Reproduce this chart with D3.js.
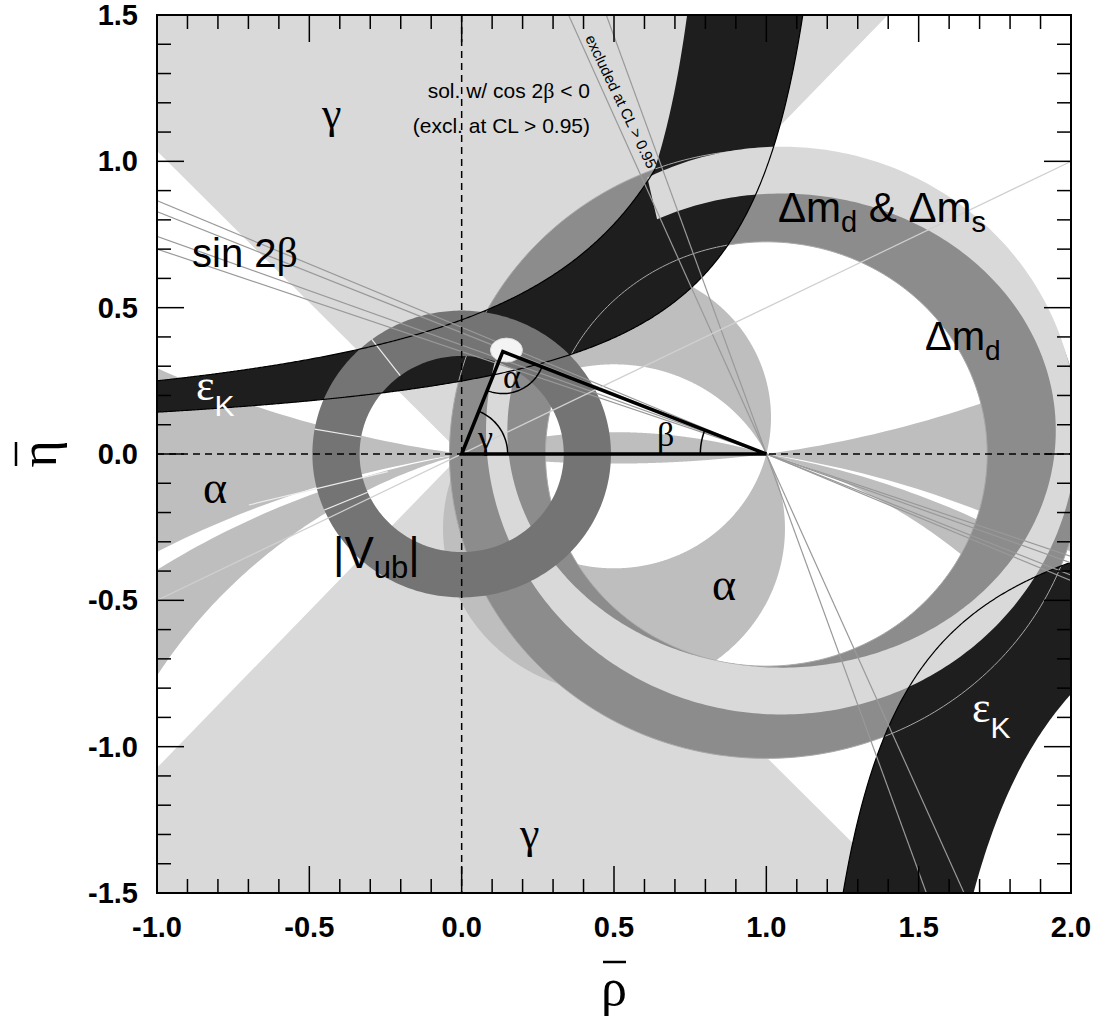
<!DOCTYPE html>
<html><head><meta charset="utf-8">
<script src="https://cdn.jsdelivr.net/npm/d3@7"></script>
<style>body{margin:0;background:#fff}</style>
</head><body>
<svg id="chart" width="1100" height="1021"></svg>
<script>
// ---- axis ranges and ticks ----
const rhoDomain = [-1, 2];
const etaDomain = [-1.5, 1.5];
const rhoTicks = [-1.0, -0.5, 0.0, 0.5, 1.0, 1.5, 2.0];
const etaTicks = [-1.5, -1.0, -0.5, 0.0, 0.5, 1.0, 1.5];

// ---- constraints (angles in degrees) ----
// gamma: wedges from the origin
const gammaWedges = [[47, 134], [227, 314]];
// alpha: allowed bands of arg((z-1)/z), z = rho + i eta
const alphaBands = [[76, 117], [163, 180], [0, 8], [-104, -63], [-180, -172.5], [-9, 0], [-16.4, -10.4]];
// further contour segments on rays from the origin: [angle, r from, r to]
const originRays = [[127, 0.335, 0.49], [170, 0.335, 0.49], [194, 0.25, 0.72], [203, 0.335, 0.49]];
// |Vub|: annulus about the origin
const vubRing = [0.335, 0.49];
// Delta m_d: annulus about (1,0)
const dmdCenter = [1, 0];
const dmdRing = [0.725, 1.04];
// Delta m_d & Delta m_s band: centre, inner radii (rho, eta), outer radius, open sector
const dmsCenter = [1.05, 0.08];
const dmsInner = [0.90, 0.81];
const dmsOuter = [0.97, 0.97];
const dmsGap = [117, 165];
// eps_K: hyperbolic bands eta = k/(c - rho)
const epsUpperTop = [{c: 1.2, k: 0.55}, {c: 0.937, k: 0.2955}];
const epsUpperBottom = [{c: 1.343, k: 0.335}];
const epsLowerInner = {c: 1.007, k: 0.3675};
const epsLowerOuter = {c: 1.294, k: 0.579};
// sin 2beta: lines through (1,0), beta values
const sin2bBetas = [19.3, 20.4, 22.5, 23.4];
// cos 2beta < 0 solution lines (pi/2 - beta)
const cos2bBetas = [66.6, 70.7];
// unitarity triangle apex
const apex = [0.135, 0.35];

const svg = d3.select("#chart");
const W = 1100, H = 1021;
const x = d3.scaleLinear().domain(rhoDomain).range([157, 1071]);
const y = d3.scaleLinear().domain(etaDomain).range([893, 15]);
const rad = Math.PI / 180;

svg.append("rect").attr("width", W).attr("height", H).attr("fill", "#fff");
svg.append("clipPath").attr("id", "plot").append("rect")
  .attr("x", x(-1)).attr("y", y(1.5)).attr("width", x(2) - x(-1)).attr("height", y(-1.5) - y(1.5));
const g = svg.append("g").attr("clip-path", "url(#plot)");

const line = d3.line().x(d => x(d[0])).y(d => y(d[1]));
const ring = pts => line(pts) + "Z";

function ellipsePts(cx, cy, rx, ry, a0 = 0, a1 = 360, n = 360) {
  return d3.range(n + 1).map(i => { const t = (a0 + (a1 - a0) * i / n) * rad; return [cx + rx * Math.cos(t), cy + ry * Math.sin(t)]; });
}
function annulus(cx, cy, r0, r1) {
  return ring(ellipsePts(cx, cy, r1, r1)) + ring(ellipsePts(cx, cy, r0, r0));
}

// cap of the circle through (0,0),(1,0) on which arg((z-1)/z) = a
function cap(a, upper) {
  const c = 0.5 / Math.tan(a * rad), r = Math.hypot(0.5, c);
  let t1 = Math.atan2(-c, 0.5), t0 = Math.atan2(-c, -0.5);
  let from, to;
  if (upper) { if (t0 < t1) t0 += 2 * Math.PI; from = t1; to = t0; }
  else { if (t1 < t0) t1 += 2 * Math.PI; from = t0; to = t1; }
  const n = 600;
  const pts = d3.range(n + 1).map(i => {
    const t = from + (to - from) * i / n;
    return [0.5 + r * Math.cos(t), c + r * Math.sin(t)];
  });
  return ring(pts);
}
const halfPlane = upper => ring(upper ? [[-9, 0], [9, 0], [9, 9], [-9, 9]] : [[-9, 0], [9, 0], [9, -9], [-9, -9]]);
function alphaPath([lo, hi]) {
  if (lo >= 0) {
    const s = a => a <= 0 ? halfPlane(true) : a >= 180 ? "" : cap(a, true);
    return s(lo) + s(hi);
  }
  const s = a => a >= 0 ? halfPlane(false) : a <= -180 ? "" : cap(a, false);
  return s(hi) + s(lo);
}

// gamma
gammaWedges.forEach(([a0, a1]) => {
  const pts = [[0, 0]].concat(d3.range(0, 41).map(i => {
    const a = (a0 + (a1 - a0) * i / 40) * rad; return [9 * Math.cos(a), 9 * Math.sin(a)];
  }));
  g.append("path").attr("d", ring(pts)).attr("fill", "#d9d9d9");
});

// alpha
alphaBands.forEach(b => g.append("path").attr("d", alphaPath(b)).attr("fill", "#bebebe").attr("fill-rule", "evenodd"));

// Delta m_d
g.append("path").attr("d", annulus(dmdCenter[0], dmdCenter[1], dmdRing[0], dmdRing[1])).attr("fill", "#8c8c8c").attr("fill-rule", "evenodd");

// eps_K bands
const hyp = h => r => h.k / (h.c - r);
function epsUpperPath() {
  const top = r => d3.max(epsUpperTop, h => hyp(h)(r));
  const bot = r => d3.min(epsUpperBottom, h => hyp(h)(r));
  const rMaxTop = d3.max(epsUpperTop, h => h.c - h.k / 2);
  const rMaxBot = d3.min(epsUpperBottom, h => h.c - h.k / 2);
  const a = d3.range(-1.2, rMaxBot, 0.004).map(r => [r, bot(r)]);
  const b = d3.range(rMaxTop, -1.2, -0.004).map(r => [r, Math.min(top(r), 2)]);
  return ring(a.concat([[rMaxBot, 2]], b));
}
function epsLowerPath() {
  const f1 = hyp(epsLowerInner), f2 = hyp(epsLowerOuter);
  const r1 = epsLowerInner.c + epsLowerInner.k / 2, r2 = epsLowerOuter.c + epsLowerOuter.k / 2;
  const a = d3.range(r1, 2.2, 0.004).map(r => [r, f1(r)]);
  const b = d3.range(2.2, r2, -0.004).map(r => [r, f2(r)]);
  return ring(a.concat(b));
}
g.append("path").attr("d", epsUpperPath()).attr("fill", "#1e1e1e");
g.append("path").attr("d", epsLowerPath()).attr("fill", "#1e1e1e");

// Delta m_d edges traced over eps_K
dmdRing.forEach(r => g.append("path").attr("d", ring(ellipsePts(dmdCenter[0], dmdCenter[1], r, r)))
  .attr("fill", "none").attr("stroke", "#a8a8a8").attr("stroke-width", 1));

// Delta m_d & Delta m_s band (open over the given sector)
{
  const [cx, cy] = dmsCenter;
  const a0 = dmsGap[1], a1 = dmsGap[0] + 360;
  const outer = ellipsePts(cx, cy, dmsOuter[0], dmsOuter[1], a0, a1);
  const inner = ellipsePts(cx, cy, dmsInner[0], dmsInner[1], a1, a0);
  g.append("path").attr("d", ring(outer.concat(inner))).attr("fill", "#d9d9d9");
}

// |Vub|
g.append("path").attr("d", annulus(0, 0, vubRing[0], vubRing[1])).attr("fill", "#747474").attr("fill-rule", "evenodd");

// contour segments on rays from the origin
originRays.forEach(([a, r0, r1]) => {
  const c = Math.cos(a * rad), s = Math.sin(a * rad);
  g.append("path").attr("d", line([[r0 * c, r0 * s], [r1 * c, r1 * s]]))
    .attr("stroke", "#ececec").attr("stroke-width", 1.2).attr("fill", "none");
});

// eps_K contour lines
const curve = (f, r0, r1) => line(d3.range(r0, r1, 0.004).map(r => [r, f(r)]).filter(p => Math.abs(p[1]) < 2));
g.append("path").attr("d", curve(hyp(epsUpperTop[0]), -1.2, 0.64)).attr("fill", "none").attr("stroke", "#000").attr("stroke-width", 1.2);
g.append("path").attr("d", curve(hyp(epsUpperBottom[0]), -1.2, 1.2)).attr("fill", "none").attr("stroke", "#000").attr("stroke-width", 1.2);
g.append("path").attr("d", curve(hyp(epsLowerInner), 1.2, 2.2)).attr("fill", "none").attr("stroke", "#000").attr("stroke-width", 1.2);

// sin 2beta lines and cos 2beta < 0 lines through (1,0)
sin2bBetas.concat(cos2bBetas).forEach(b => {
  const t = Math.tan(b * rad);
  g.append("path").attr("d", line([[1 - 5, 5 * t], [1 + 5, -5 * t]]))
    .attr("stroke", "#999").attr("stroke-width", 1.2).attr("fill", "none");
});
// light line through origin
g.append("path").attr("d", line([[-4, -2], [4, 2]])).attr("stroke", "#d0d0d0").attr("stroke-width", 1.2);

// dashed axes
g.append("line").attr("x1", x(-1)).attr("x2", x(2)).attr("y1", y(0)).attr("y2", y(0))
  .attr("stroke", "#000").attr("stroke-width", 1.5).attr("stroke-dasharray", "7,5");
g.append("line").attr("x1", x(0)).attr("x2", x(0)).attr("y1", y(1.5)).attr("y2", y(-1.5))
  .attr("stroke", "#000").attr("stroke-width", 1.5).attr("stroke-dasharray", "7,5");

// apex ellipse
g.append("ellipse").attr("cx", x(apex[0] + 0.012)).attr("cy", y(apex[1] + 0.005)).attr("rx", 16).attr("ry", 12)
  .attr("fill", "#f4f4f4").attr("stroke", "#ddd");

// triangle
g.append("path").attr("d", ring([[0, 0], apex, [1, 0]])).attr("fill", "none")
  .attr("stroke", "#000").attr("stroke-width", 3.5).attr("stroke-linejoin", "miter");
// angle arcs (pixel radii)
function arcAt(p, q1, q2, R) {
  const P = [x(p[0]), y(p[1])];
  const a1 = Math.atan2(y(q1[1]) - P[1], x(q1[0]) - P[0]);
  let d = Math.atan2(y(q2[1]) - P[1], x(q2[0]) - P[0]) - a1;
  while (d > Math.PI) d -= 2 * Math.PI;
  while (d < -Math.PI) d += 2 * Math.PI;
  const n = 40;
  const pts = d3.range(n + 1).map(i => { const a = a1 + d * i / n; return [P[0] + R * Math.cos(a), P[1] + R * Math.sin(a)]; });
  g.append("path").attr("d", d3.line()(pts)).attr("fill", "none").attr("stroke", "#000").attr("stroke-width", 1.5);
}
arcAt([0, 0], [1, 0], apex, 46);
arcAt(apex, [0, 0], [1, 0], 42);
arcAt([1, 0], apex, [0, 0], 66);

// ---- frame and ticks ----
const frame = svg.append("g");
frame.append("rect").attr("x", x(-1)).attr("y", y(1.5)).attr("width", x(2) - x(-1)).attr("height", y(-1.5) - y(1.5))
  .attr("fill", "none").attr("stroke", "#000").attr("stroke-width", 2);
const minorR = d3.range(-10, 21).map(i => i / 10), minorE = d3.range(-15, 16).map(i => i / 10);
const isMajor = v => Math.abs(v * 2 - Math.round(v * 2)) < 1e-6;
minorR.forEach(v => {
  const L = isMajor(v) ? 27 : 14;
  frame.append("line").attr("x1", x(v)).attr("x2", x(v)).attr("y1", y(-1.5)).attr("y2", y(-1.5) - L).attr("stroke", "#000").attr("stroke-width", 1.5);
  frame.append("line").attr("x1", x(v)).attr("x2", x(v)).attr("y1", y(1.5)).attr("y2", y(1.5) + L).attr("stroke", "#000").attr("stroke-width", 1.5);
});
minorE.forEach(v => {
  const L = isMajor(v) ? 27 : 14;
  frame.append("line").attr("y1", y(v)).attr("y2", y(v)).attr("x1", x(-1)).attr("x2", x(-1) + L).attr("stroke", "#000").attr("stroke-width", 1.5);
  frame.append("line").attr("y1", y(v)).attr("y2", y(v)).attr("x1", x(2)).attr("x2", x(2) - L).attr("stroke", "#000").attr("stroke-width", 1.5);
});
const tickFont = "Liberation Sans, Arial, sans-serif";
rhoTicks.forEach(v => frame.append("text").attr("x", x(v)).attr("y", 937).attr("text-anchor", "middle")
  .attr("font-family", tickFont).attr("font-weight", "bold").attr("font-size", 29).text(v.toFixed(1)));
etaTicks.forEach(v => frame.append("text").attr("x", 138).attr("y", y(v) + 10).attr("text-anchor", "end")
  .attr("font-family", tickFont).attr("font-weight", "bold").attr("font-size", 29).text(v.toFixed(1)));

// axis titles
const serif = "Liberation Serif, Times New Roman, serif";
const sans = "Liberation Sans, Arial, sans-serif";
svg.append("text").attr("x", 614).attr("y", 1005).attr("text-anchor", "middle").attr("font-family", serif).attr("font-size", 52).text("ρ");
svg.append("line").attr("x1", 603).attr("x2", 626).attr("y1", 962).attr("y2", 962).attr("stroke", "#000").attr("stroke-width", 2.5);
const yt = svg.append("g").attr("transform", "translate(56,454) rotate(-90)");
yt.append("text").attr("x", 0).attr("y", 0).attr("text-anchor", "middle").attr("font-family", serif).attr("font-size", 52).text("η");
yt.append("line").attr("x1", -12).attr("x2", 12).attr("y1", -40).attr("y2", -40).attr("stroke", "#000").attr("stroke-width", 2.5);

// ---- labels ----
function label(px, py, parts, fill = "#000", anchor = "start") {
  const t = svg.append("text").attr("x", px).attr("y", py).attr("fill", fill).attr("text-anchor", anchor);
  parts.forEach(p => {
    const s = t.append("tspan").attr("font-family", p.f || sans).attr("font-size", p.s || 40).text(p.t);
    if (p.dy) s.attr("dy", p.dy);
  });
  return t;
}
label(322, 128, [{t: "γ", f: serif, s: 44}]);
label(520, 848, [{t: "γ", f: serif, s: 44}]);
label(203, 503, [{t: "α", f: serif, s: 46}]);
label(712, 600, [{t: "α", f: serif, s: 46}]);
label(192, 267, [{t: "sin 2", s: 40}, {t: "β", f: serif, s: 42}]);
label(196, 400, [{t: "ε", f: serif, s: 44}, {t: "K", s: 30, dy: 16}], "#fff");
label(972, 722, [{t: "ε", f: serif, s: 44}, {t: "K", s: 30, dy: 16}], "#fff");
label(333, 568, [{t: "|V", s: 44}, {t: "ub", s: 31, dy: 10}, {t: "|", s: 44, dy: -10}]);
label(925, 350, [{t: "Δm", s: 40}, {t: "d", s: 28, dy: 10}]);
label(778, 222, [{t: "Δm", s: 42}, {t: "d", s: 29, dy: 10}, {t: " & Δm", s: 42, dy: -10}, {t: "s", s: 29, dy: 10}]);
label(590, 98, [{t: "sol. w/ cos 2", s: 21}, {t: "β", f: serif, s: 22}, {t: " < 0", s: 21}], "#000", "end");
label(590, 133, [{t: "(excl. at CL > 0.95)", s: 21}], "#000", "end");
svg.append("text").attr("transform", "translate(585,38) rotate(64.5)").attr("font-family", sans).attr("font-size", 15)
  .text("excluded at CL > 0.95");
// triangle angle labels
label(478, 449, [{t: "γ", f: serif, s: 34}]);
label(503, 388, [{t: "α", f: serif, s: 34}]);
label(657, 446, [{t: "β", f: serif, s: 34}]);
</script>
</body></html>
